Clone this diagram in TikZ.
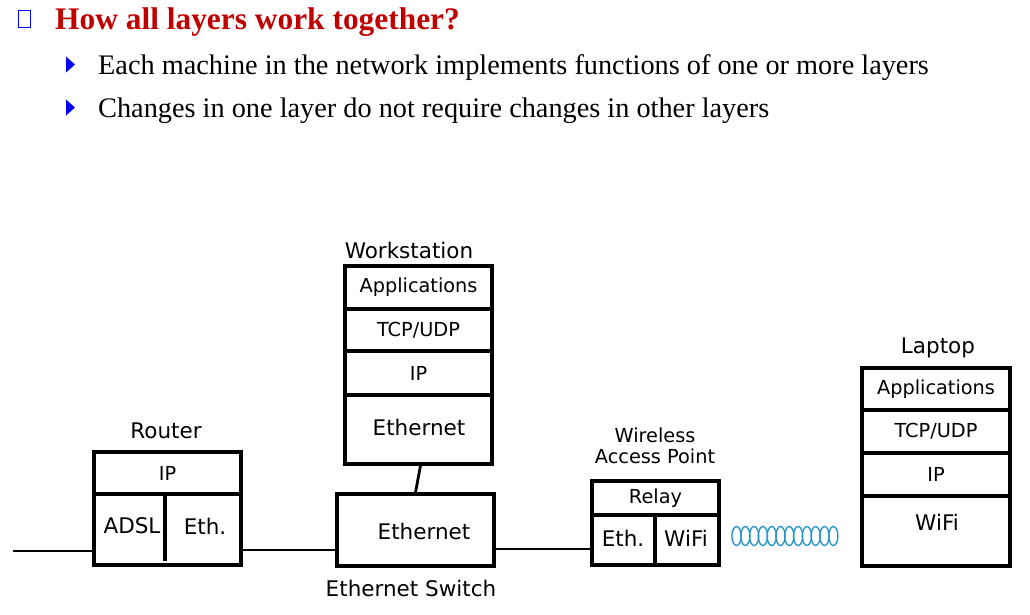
\documentclass[tikz,border=0pt]{standalone}
\usepackage{fontspec}
\setmainfont{Liberation Serif}
\newfontfamily\diag{DejaVu Sans}
\definecolor{titlered}{RGB}{192,0,0}
\definecolor{bulletblue}{RGB}{0,0,255}
\definecolor{coilblue}{RGB}{40,150,200}
\begin{document}
\begin{tikzpicture}[x=1pt,y=-1pt,
  layer/.style={draw,line width=3.1pt,inner sep=0pt,font=\diag\fontsize{19.3}{22}\selectfont},
  big/.style={inner sep=0pt,font=\diag\fontsize{21.5}{24}\selectfont},
  small/.style={inner sep=0pt,font=\diag\fontsize{19.3}{22}\selectfont},
  wire/.style={line width=2.8pt},
  bul/.style={anchor=base west,inner sep=0pt,font=\fontsize{28.3}{32}\selectfont}]
\useasboundingbox (0,0) rectangle (1030,614);
% header
\node[draw=bulletblue,line width=1.8pt,minimum width=12pt,minimum height=17pt,inner sep=0pt] (sq) at (24.5,19) {};
\node[anchor=base west,inner sep=0pt,text=titlered,font=\bfseries\fontsize{31.4}{36}\selectfont] (title) at (55,29) {How all layers work together?};
\fill[bulletblue] (66,56.5) -- (75,64.5) -- (66,72.5) -- cycle;
\node[bul] (b1) at (98,74) {Each machine in the network implements functions of one or more layers};
\fill[bulletblue] (66,99.5) -- (75,107.5) -- (66,115.5) -- cycle;
\node[bul] (b2) at (98,117) {Changes in one layer do not require changes in other layers};
% Workstation
\node[big] (wsl) at (409,250) {Workstation};
\node[layer,minimum width=147pt,minimum height=43pt] (wsapp) at (418.5,287.5) {Applications};
\node[layer,minimum width=147pt,minimum height=42pt] (wstcp) at (418.5,330) {TCP/UDP};
\node[layer,minimum width=147pt,minimum height=44pt] (wsip) at (418.5,373) {IP};
\node[layer,minimum width=147pt,minimum height=69pt] (wseth) at (418.5,429.5) {};
\node[big] at (419,427) {Ethernet};
% Switch
\node[layer,minimum width=157pt,minimum height=72pt] (sw) at (415.5,530) {};
\node[big] at (424,531) {Ethernet};
\node[big] (swl) at (411,588) {Ethernet Switch};
\draw[wire] ([xshift=2pt]wseth.south) -- ([xshift=0pt]sw.north);
% Router
\node[big] (rl) at (166,431) {Router};
\node[layer,minimum width=147pt,minimum height=42pt] (rip) at (167.5,473) {IP};
\node[layer,minimum width=147pt,minimum height=71pt] (rlow) at (167.5,529.5) {};
\draw[line width=3.1pt] (165,494) -- (165,561);
\node[big] at (132,526) {ADSL};
\node[big] at (205,526) {Eth.};
\coordinate (left) at (13,551);
\draw[wire] (left) -- (rlow.west |- left);
\draw[wire] (rlow.east |- 0,550) -- (sw.west |- 0,550);
% Wireless AP
\node[small,align=center] (apl) at (655,446) {Wireless\\[-1pt]Access Point};
\node[layer,minimum width=127pt,minimum height=34pt] (relay) at (655.5,498) {Relay};
\node[layer,minimum width=63pt,minimum height=50pt] (apeth) at (623.5,540) {};
\node[layer,minimum width=64pt,minimum height=50pt] (apwifi) at (687,540) {};
\node[big] at (623,538) {Eth.};
\node[big] at (686,538) {WiFi};
\draw[wire] (sw.east |- 0,549) -- (apeth.west |- 0,549);
% coil
\foreach \i in {0,...,11} {
  \draw[coilblue,line width=1.4pt] (736.5+\i*8.8,536) ellipse (4.6pt and 9.5pt);
}
% Laptop
\node[big] (ll) at (938,348) {Laptop};
\node[layer,minimum width=148pt,minimum height=42pt] (lapp) at (936,389) {Applications};
\node[layer,minimum width=148pt,minimum height=43pt] (ltcp) at (936,431.5) {TCP/UDP};
\node[layer,minimum width=148pt,minimum height=43pt] (lip) at (936,474.5) {IP};
\node[layer,minimum width=148pt,minimum height=70pt] (lwifi) at (936,531) {};
\node[big] at (937,522) {WiFi};
\end{tikzpicture}
\end{document}
